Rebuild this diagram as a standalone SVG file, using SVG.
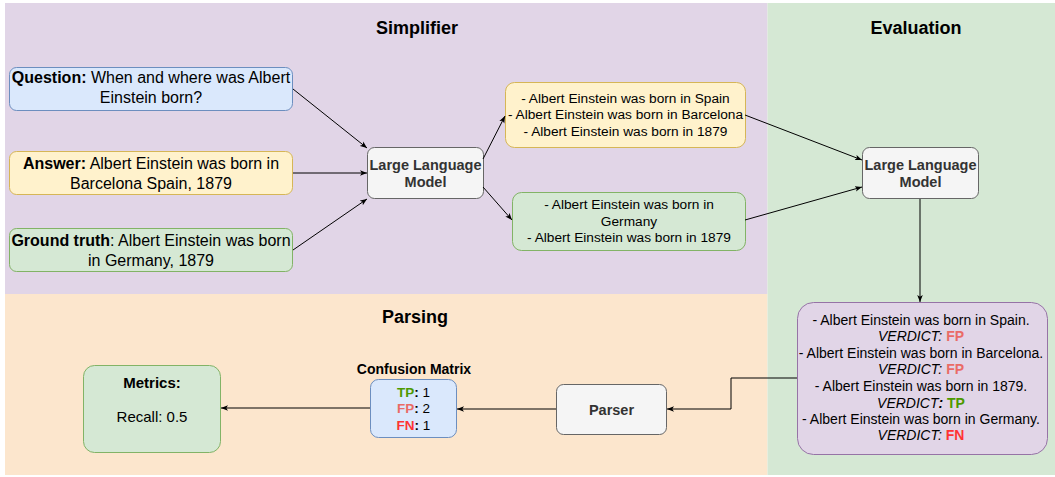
<svg xmlns="http://www.w3.org/2000/svg" width="1055" height="477" viewBox="0 0 1055 477">
<defs>
<marker id="arr" viewBox="0 0 10 10" refX="10" refY="5" markerWidth="7" markerHeight="7" orient="auto" markerUnits="userSpaceOnUse">
<path d="M0,1 L10,5 L0,9 L2.5,5 Z" fill="#000"/>
</marker>
<style>
text{font-family:"Liberation Sans",Arial,Helvetica,sans-serif;fill:#000;text-anchor:middle}
.title{font-size:18px;font-weight:bold}
.in{font-size:16px}
.sm{font-size:13.7px}
.vd{font-size:14px}
.b{font-weight:bold}
.llm{font-size:14.5px;font-weight:bold;fill:#333}
.blue{fill:#dae8fc;stroke:#6c8ebf}
.yel{fill:#fff2cc;stroke:#d6b656}
.grn{fill:#d5e8d4;stroke:#82b366}
.gry{fill:#f5f5f5;stroke:#666}
.pur{fill:#e1d5e7;stroke:#9673a6}
.conn path{fill:none;stroke:#000;stroke-width:1;marker-end:url(#arr)}
.fp{fill:#ea6b66;font-weight:bold}
.fn{fill:#ff3333;font-weight:bold}
.tp{fill:#4d9900;font-weight:bold}
</style>
</defs>
<rect width="1055" height="477" fill="#fff"/>
<g id="regions">
<rect x="5" y="3" width="762.5" height="291" fill="#e1d5e7"/>
<rect x="5" y="294" width="762.5" height="181" fill="#fce6cd"/>
<rect x="767.5" y="3" width="287.5" height="472" fill="#d5e8d4"/>
<text class="title" x="417" y="34">Simplifier</text>
<text class="title" x="916" y="34">Evaluation</text>
<text class="title" x="415" y="323">Parsing</text>
</g>
<g id="question">
<rect class="blue" x="9.5" y="67.5" width="283" height="43" rx="7"/>
<text class="in" x="151" y="83"><tspan class="b">Question:</tspan> When and where was Albert</text>
<text class="in" x="151" y="103">Einstein born?</text>
</g>
<g id="answer">
<rect class="yel" x="9.5" y="151.5" width="283" height="43" rx="7"/>
<text class="in" x="151" y="169"><tspan class="b">Answer:</tspan> Albert Einstein was born in</text>
<text class="in" x="151" y="189">Barcelona Spain, 1879</text>
</g>
<g id="groundtruth">
<rect class="grn" x="9.5" y="228.5" width="283" height="43" rx="7"/>
<text class="in" x="151" y="246"><tspan class="b">Ground truth</tspan>: Albert Einstein was born</text>
<text class="in" x="151" y="266">in Germany, 1879</text>
</g>
<g id="llm1">
<rect class="gry" x="367.5" y="147.5" width="116" height="51" rx="7"/>
<text class="llm" x="425.5" y="170">Large Language</text>
<text class="llm" x="425.5" y="187">Model</text>
</g>
<g id="simplified_answer">
<rect class="yel" x="505.5" y="82.5" width="240" height="65" rx="9"/>
<text class="sm" x="625.5" y="103">- Albert Einstein was born in Spain</text>
<text class="sm" x="625.5" y="119">- Albert Einstein was born in Barcelona</text>
<text class="sm" x="625.5" y="136">- Albert Einstein was born in 1879</text>
</g>
<g id="simplified_truth">
<rect class="grn" x="512.5" y="192.5" width="233" height="58" rx="9"/>
<text class="sm" x="629" y="209">- Albert Einstein was born in</text>
<text class="sm" x="629" y="226">Germany</text>
<text class="sm" x="629" y="242">- Albert Einstein was born in 1879</text>
</g>
<g id="llm2">
<rect class="gry" x="862.5" y="147.5" width="116" height="51" rx="7"/>
<text class="llm" x="920.5" y="170">Large Language</text>
<text class="llm" x="920.5" y="187">Model</text>
</g>
<g id="verdicts">
<rect class="pur" x="797.5" y="302.5" width="250" height="152" rx="16"/>
<text class="vd" x="921" y="325">- Albert Einstein was born in Spain.</text>
<text class="vd" x="921" y="341"><tspan font-style="italic">VERDICT:</tspan> <tspan class="fp">FP</tspan></text>
<text class="vd" x="921" y="358">- Albert Einstein was born in Barcelona.</text>
<text class="vd" x="921" y="374"><tspan font-style="italic">VERDICT:</tspan> <tspan class="fp">FP</tspan></text>
<text class="vd" x="921" y="391">- Albert Einstein was born in 1879.</text>
<text class="vd" x="921" y="408"><tspan font-style="italic">VERDICT<tspan font-weight="bold">:</tspan></tspan> <tspan class="tp">TP</tspan></text>
<text class="vd" x="921" y="424">- Albert Einstein was born in Germany.</text>
<text class="vd" x="921" y="440"><tspan font-style="italic">VERDICT:</tspan> <tspan class="fn">FN</tspan></text>
</g>
<g id="parser">
<rect class="gry" x="556.5" y="384.5" width="110" height="50" rx="7"/>
<text class="llm" x="611.5" y="415">Parser</text>
</g>
<g id="confusion_matrix">
<text class="b" x="414" y="374" font-size="14px">Confusion Matrix</text>
<rect class="blue" x="370.5" y="379.5" width="86" height="58" rx="8"/>
<text x="413.5" y="397" font-size="13.5px"><tspan class="tp">TP</tspan><tspan class="b">:</tspan> 1</text>
<text x="413.5" y="413" font-size="13.5px"><tspan class="fp">FP</tspan><tspan class="b">:</tspan> 2</text>
<text x="413.5" y="430" font-size="13.5px"><tspan class="fn">FN</tspan><tspan class="b">:</tspan> 1</text>
</g>
<g id="metrics">
<rect class="grn" x="83.5" y="365.5" width="137" height="87" rx="11"/>
<text x="152" y="388" font-size="15px" class="b">Metrics:</text>
<text x="152" y="422" font-size="15px">Recall: 0.5</text>
</g>
<g id="connectors" class="conn">
<path d="M293,89 L367,148"/>
<path d="M293,173 L367,173"/>
<path d="M293,250 L367,199"/>
<path d="M483,159 L505,116"/>
<path d="M483,187 L512,220"/>
<path d="M745,115 L862,160"/>
<path d="M745,220 L862,187"/>
<path d="M920,199 L920,302"/>
<path d="M797,378 L731,378 L731,409 L667,409"/>
<path d="M556,409 L457,409"/>
<path d="M370,408 L221,408"/>
</g>
</svg>
